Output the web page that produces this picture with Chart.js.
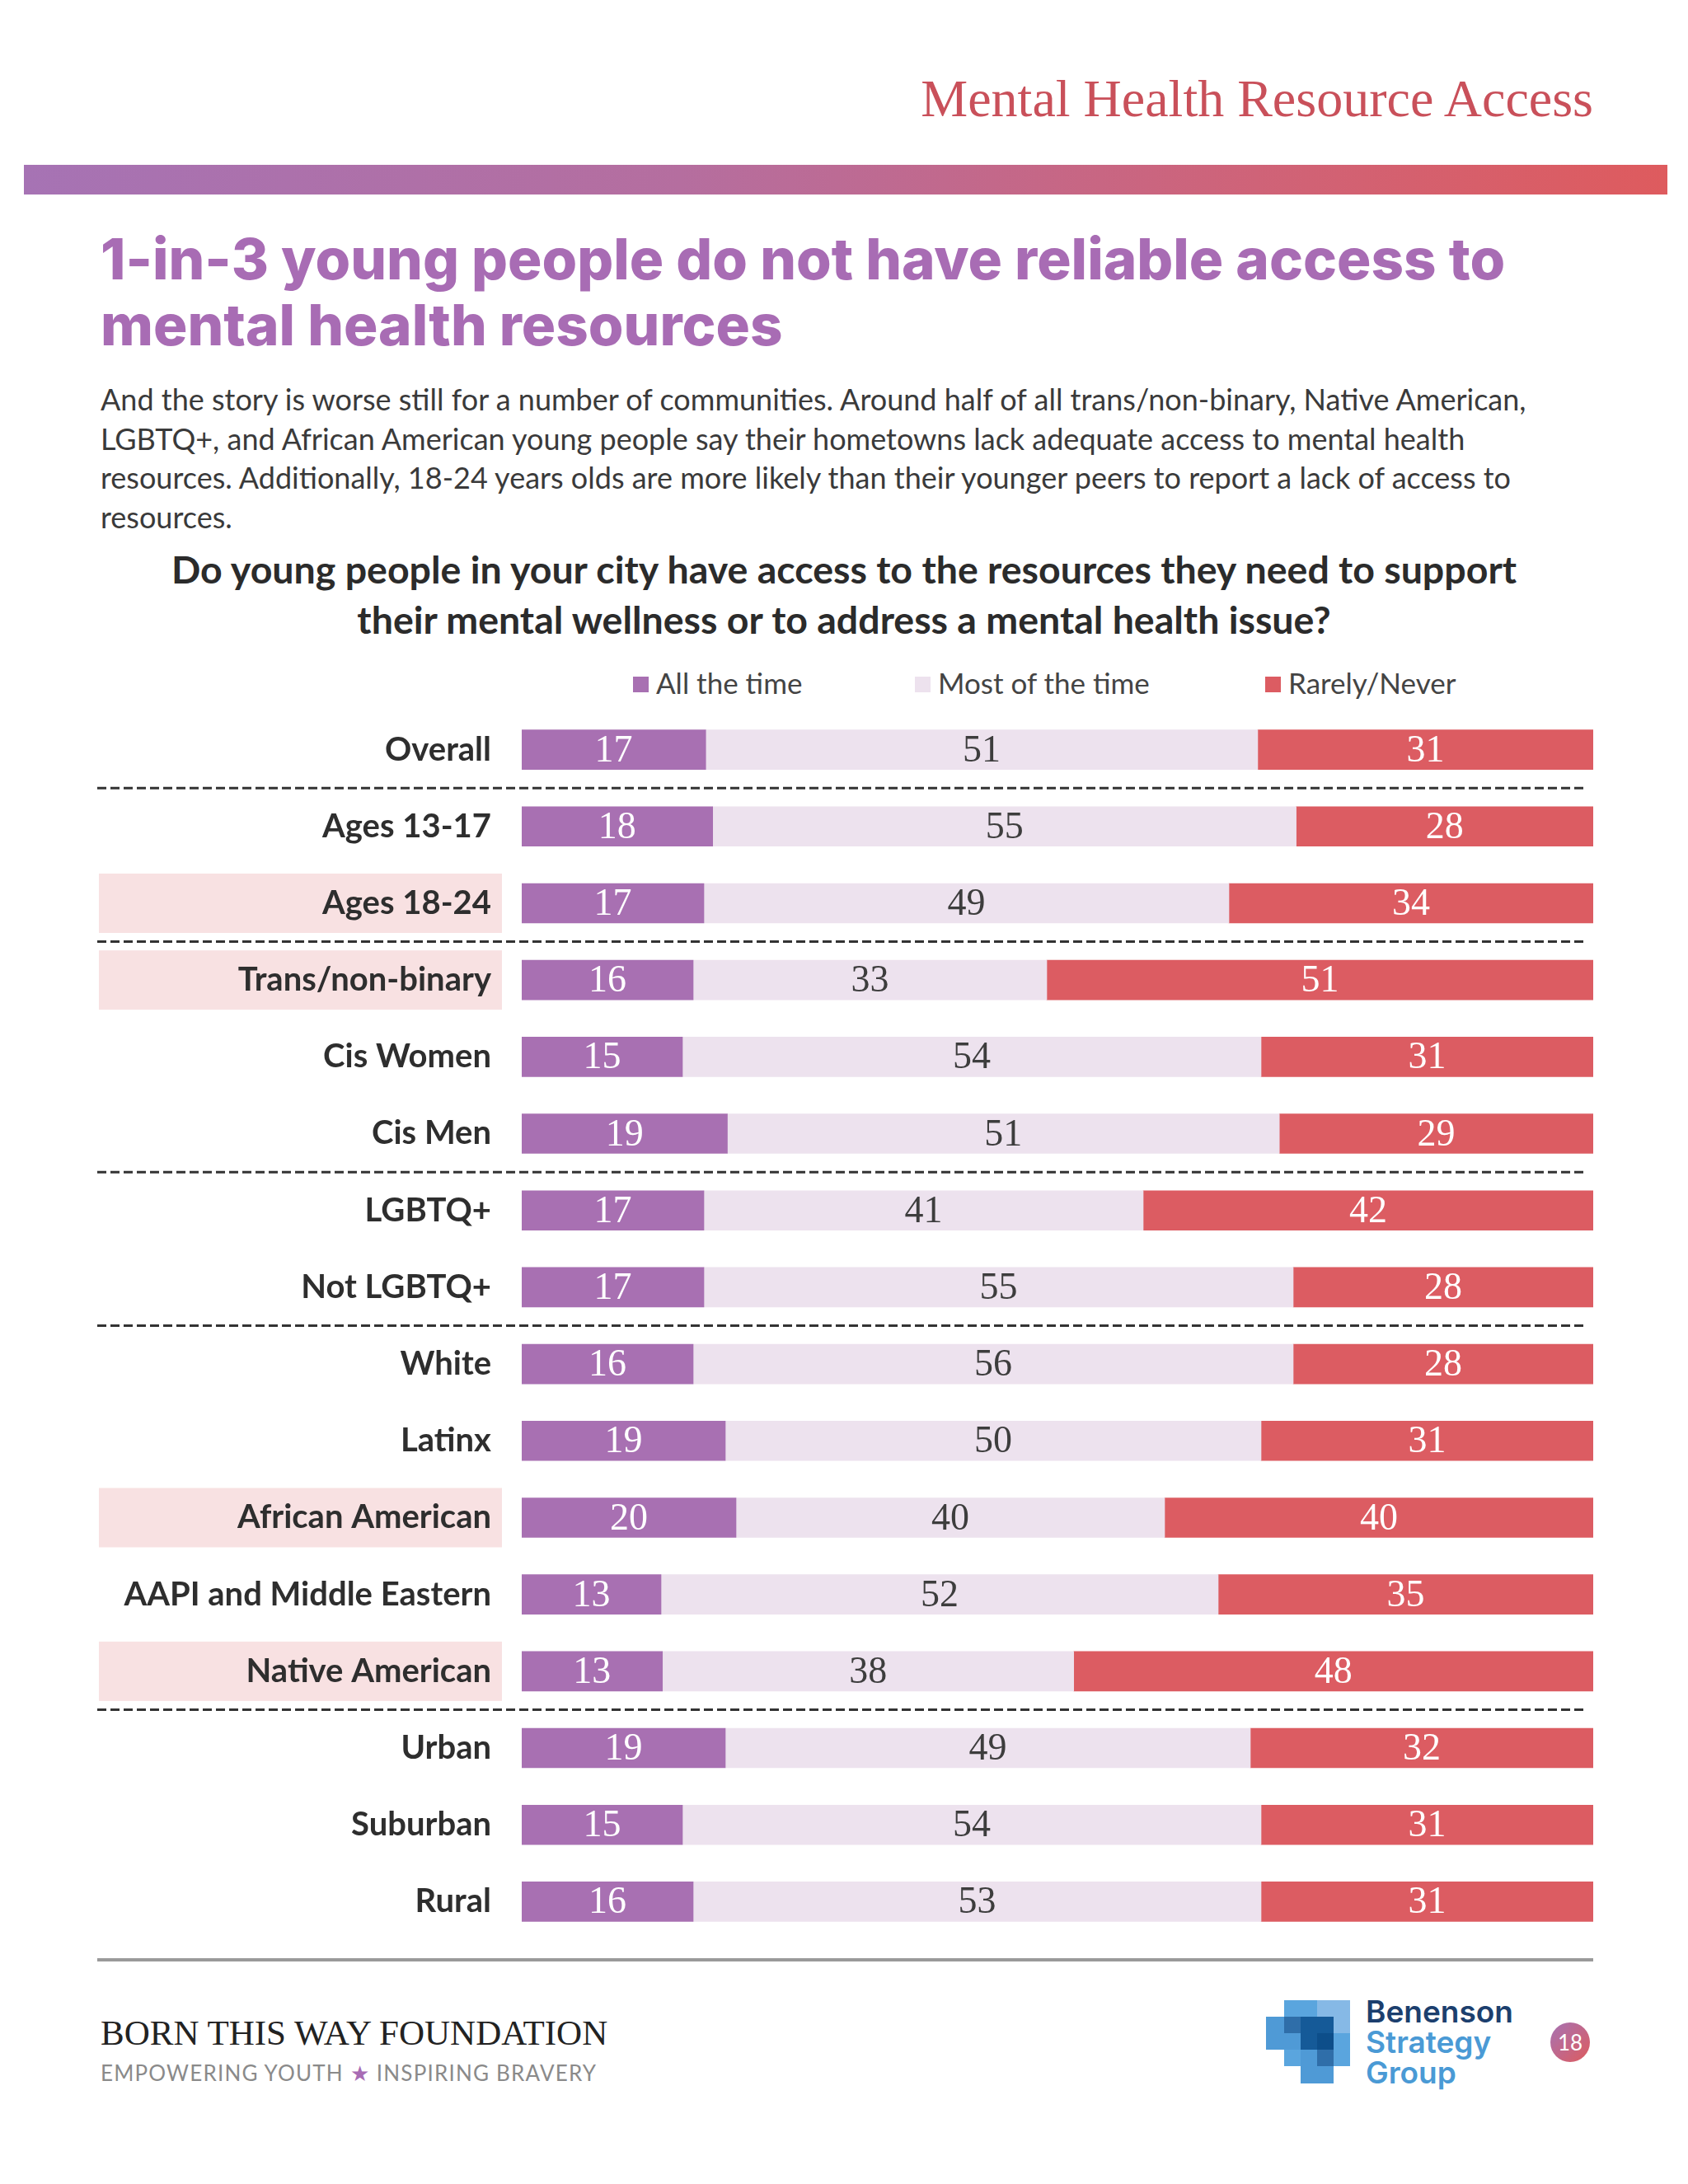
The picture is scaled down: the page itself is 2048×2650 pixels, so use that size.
<!DOCTYPE html>
<html>
<head>
<meta charset="utf-8">
<script src="https://cdn.jsdelivr.net/npm/chart.js@4"></script>
<style>
  html,body{margin:0;padding:0;background:#fff;}
  body{width:2048px;height:2650px;position:relative;overflow:hidden;font-family:Lato,"Open Sans",sans-serif;}
  .abs{position:absolute;}
  #hdr{right:115px;top:83px;font-family:"Liberation Serif","DejaVu Serif",serif;font-size:64px;color:#c9505a;white-space:nowrap;}
  #band{left:29px;top:200px;width:1994px;height:36px;background:linear-gradient(90deg,#a673b4 0%,#b56e9f 40%,#cf6378 75%,#de5b5e 100%);}
  #title{left:122px;top:274px;font-family:Inter,"Open Sans",sans-serif;font-weight:800;font-size:69px;line-height:80px;color:#a86cb4;white-space:nowrap;}
  #para{left:122px;top:461px;width:1790px;font-size:36px;line-height:47.5px;color:#3a3a3a;}
  #q{left:0;width:2048px;top:660px;text-align:center;font-weight:700;font-size:46.5px;line-height:61px;color:#2b2b2b;}
  .lg{top:808px;font-size:35px;color:#444;white-space:nowrap;line-height:40px;}
  .sw{display:inline-block;width:19px;height:19px;margin-right:9px;vertical-align:2px;}
  #chartwrap{left:0;top:863px;width:2048px;height:1491px;}
  #rule{left:118px;top:2376px;width:1815px;height:4px;background:#9a9a9a;}
  #btw{left:122px;top:2442px;font-family:"Liberation Serif","DejaVu Serif",serif;font-size:43px;color:#222;white-space:nowrap;}
  #tag{left:122px;top:2499px;font-size:26px;color:#8a8a8a;letter-spacing:1.2px;white-space:nowrap;}
  #tag span{color:#a86cb4;}
  .sq{position:absolute;}
  #bsg{left:1657px;top:2422px;font-family:Inter,"Open Sans",sans-serif;font-weight:600;font-size:37px;line-height:37px;white-space:nowrap;}
  #pg{left:1881px;top:2454px;width:48px;height:48px;border-radius:50%;background:linear-gradient(135deg,#a673b4,#de5b5e);color:#fff;font-size:26px;text-align:center;line-height:48px;}
</style>
</head>
<body>
<div id="hdr" class="abs">Mental Health Resource Access</div>
<div id="band" class="abs"></div>
<div id="title" class="abs">1-in-3 young people do not have reliable access to<br>mental health resources</div>
<div id="para" class="abs">And the story is worse still for a number of communities. Around half of all trans/non-binary, Native American, LGBTQ+, and African American young people say their hometowns lack adequate access to mental health resources. Additionally, 18-24 years olds are more likely than their younger peers to report a lack of access to resources.</div>
<div id="q" class="abs">Do young people in your city have access to the resources they need to support<br>their mental wellness or to address a mental health issue?</div>
<div id="legend"></div>
<div id="chartwrap" class="abs"><canvas id="c" width="2048" height="1491"></canvas></div>
<div id="rule" class="abs"></div>
<div id="btw" class="abs">BORN THIS WAY FOUNDATION</div>
<div id="tag" class="abs">EMPOWERING YOUTH <span>★</span> INSPIRING BRAVERY</div>
<div id="logo">
  <div class="sq" style="left:1558px;top:2427px;width:80px;height:80px;background:#5aa5de;"></div>
  <div class="sq" style="left:1598px;top:2427px;width:40px;height:40px;background:#86b9e6;"></div>
  <div class="sq" style="left:1536px;top:2447px;width:60px;height:40px;background:#4f9ad6;"></div>
  <div class="sq" style="left:1558px;top:2447px;width:60px;height:20px;background:#2f6ea9;"></div>
  <div class="sq" style="left:1578px;top:2447px;width:40px;height:60px;background:#155a98;"></div>
  <div class="sq" style="left:1598px;top:2467px;width:20px;height:40px;background:#0d4e8a;"></div>
  <div class="sq" style="left:1578px;top:2487px;width:40px;height:41px;background:#4f9ad6;"></div>
  <div class="sq" style="left:1598px;top:2487px;width:20px;height:20px;background:#2f6ea9;"></div>
</div>
<div id="bsg" class="abs"><span style="color:#1c3f6e">Benenson</span><br><span style="color:#4a9ad5">Strategy</span><br><span style="color:#4a9ad5">Group</span></div>
<div id="pg" class="abs">18</div>

<script>
// ---- data ----
const categories = ['Overall','Ages 13-17','Ages 18-24','Trans/non-binary','Cis Women','Cis Men','LGBTQ+','Not LGBTQ+','White','Latinx','African American','AAPI and Middle Eastern','Native American','Urban','Suburban','Rural'];
const allTheTime  = [17,18,17,16,15,19,17,17,16,19,20,13,13,19,15,16];
const mostOfTime  = [51,55,49,33,54,51,41,55,56,50,40,52,38,49,54,53];
const rarelyNever = [31,28,34,51,31,29,42,28,28,31,40,35,48,32,31,31];
const seriesNames = ['All the time','Most of the time','Rarely/Never'];
const highlighted = ['Ages 18-24','Trans/non-binary','African American','Native American'];
const separatorsAfter = ['Overall','Ages 18-24','Cis Men','Not LGBTQ+','Native American'];

const colors = ['#a870b2','#ede2ee','#dc5c62'];
const textColors = ['#ffffff','#3d3d3d','#ffffff'];
const raw = [allTheTime, mostOfTime, rarelyNever];
const totals = categories.map((_, i) => allTheTime[i] + mostOfTime[i] + rarelyNever[i]);

// legend (HTML)
const legendX = [768, 1110, 1535];
const lg = document.getElementById('legend');
seriesNames.forEach((n, k) => {
  const d = document.createElement('div');
  d.className = 'abs lg';
  d.style.left = legendX[k] + 'px';
  d.innerHTML = '<span class="sw" style="background:' + colors[k] + '"></span>' + n;
  lg.appendChild(d);
});

const decoPlugin = {
  id: 'rowdeco',
  beforeDraw(chart) {
    const ctx = chart.ctx, y = chart.scales.y;
    ctx.save();
    ctx.fillStyle = '#f8e1e2';
    highlighted.forEach(h => {
      const i = categories.indexOf(h);
      const py = y.getPixelForValue(i);
      ctx.fillRect(120, py - 36, 489, 72);
    });
    ctx.restore();
  },
  afterDatasetsDraw(chart) {
    const ctx = chart.ctx, y = chart.scales.y;
    ctx.save();
    ctx.font = '46px "Liberation Serif", "DejaVu Serif", serif';
    ctx.textAlign = 'center';
    ctx.textBaseline = 'middle';
    chart.data.datasets.forEach((ds, k) => {
      const meta = chart.getDatasetMeta(k);
      meta.data.forEach((bar, i) => {
        ctx.fillStyle = textColors[k];
        ctx.fillText(String(raw[k][i]), (bar.x + bar.base) / 2, bar.y + 2);
      });
    });
    ctx.strokeStyle = '#333';
    ctx.lineWidth = 3;
    ctx.setLineDash([11, 5]);
    separatorsAfter.forEach(s => {
      const i = categories.indexOf(s);
      const py = (y.getPixelForValue(i) + y.getPixelForValue(i + 1)) / 2;
      ctx.beginPath();
      ctx.moveTo(118, py);
      ctx.lineTo(1926, py);
      ctx.stroke();
    });
    ctx.restore();
  }
};

new Chart(document.getElementById('c'), {
  type: 'bar',
  data: {
    labels: categories,
    datasets: seriesNames.map((n, k) => ({
      label: n,
      data: raw[k].map((v, i) => v / totals[i] * 100),
      backgroundColor: colors[k],
      borderWidth: 0,
      barThickness: 48
    }))
  },
  options: {
    indexAxis: 'y',
    responsive: false,
    animation: false,
    devicePixelRatio: 1,
    layout: { padding: { left: 0, right: 115, top: 0, bottom: 0 } },
    plugins: { legend: { display: false }, tooltip: { enabled: false } },
    scales: {
      x: { stacked: true, min: 0, max: 100, display: false },
      y: {
        stacked: true,
        grid: { display: false, drawTicks: false },
        border: { display: false },
        ticks: { padding: 37, color: '#2e2e2e', font: { family: 'Lato', weight: 'bold', size: 40 } },
        afterFit(scale) { scale.width = 633; scale.paddingTop = 0; scale.paddingBottom = 0; }
      }
    }
  },
  plugins: [decoPlugin]
});
</script>
</body>
</html>
